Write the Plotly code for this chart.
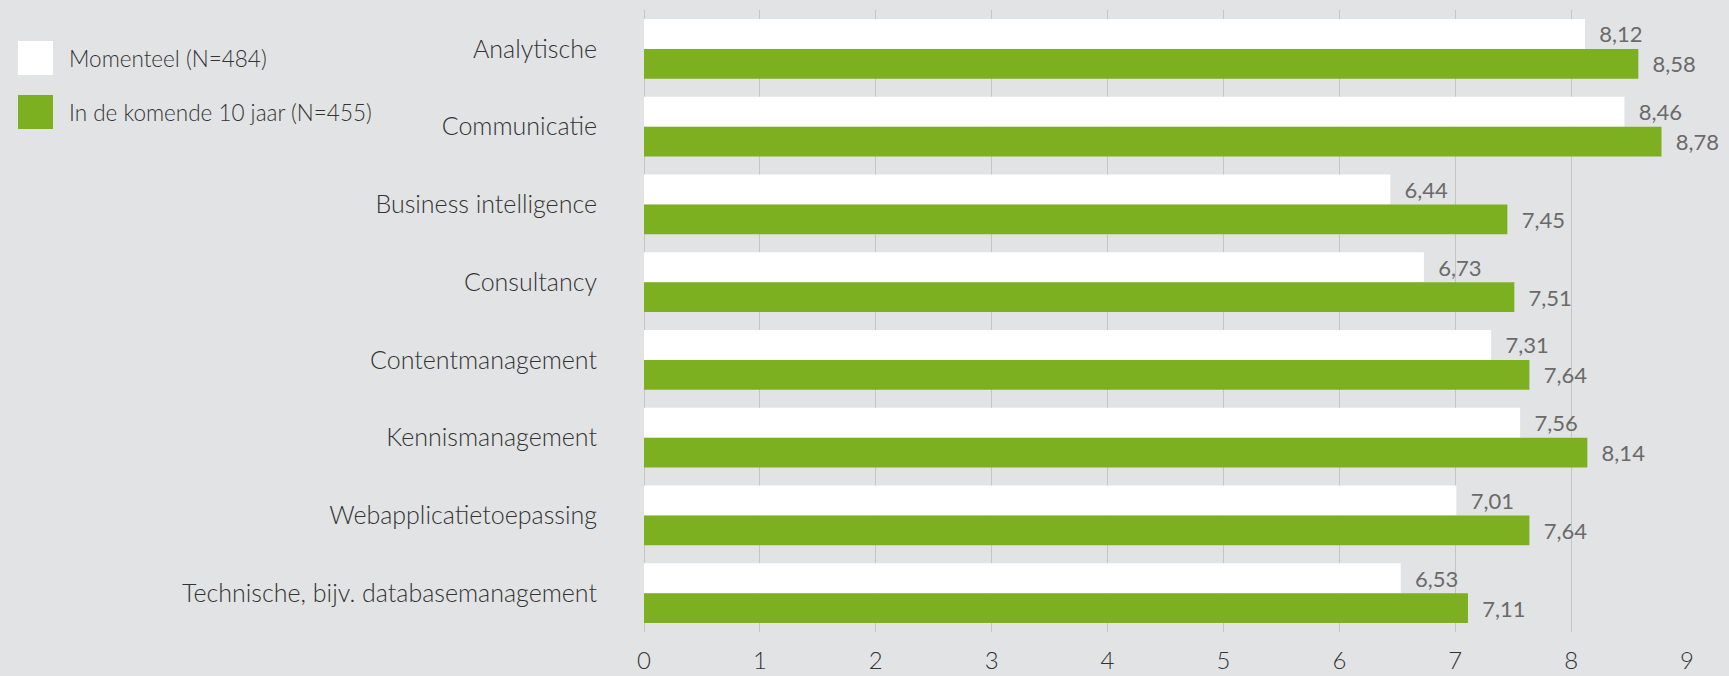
import plotly.graph_objects as go

categories = [
    "Analytische",
    "Communicatie",
    "Business intelligence",
    "Consultancy",
    "Contentmanagement",
    "Kennismanagement",
    "Webapplicatietoepassing",
    "Technische, bijv. databasemanagement",
]
momenteel = [8.12, 8.46, 6.44, 6.73, 7.31, 7.56, 7.01, 6.53]
komende_10_jaar = [8.58, 8.78, 7.45, 7.51, 7.64, 8.14, 7.64, 7.11]
series_names = ["Momenteel (N=484)", "In de komende 10 jaar (N=455)"]
x_ticks = [0, 1, 2, 3, 4, 5, 6, 7, 8, 9]

W, H = 1729, 676
M_L, M_R, M_T, M_B = 644, 42, 10, 44
BG = "#e2e3e5"
WHITE = "#ffffff"
GREEN = "#7cb021"
FONT = "Lato"
TEXT = "#333333"
VALUE = "#6a6a6a"
GRID = "#c4c5c7"

fig = go.Figure()
for name, vals, color in [(series_names[0], momenteel, WHITE),
                          (series_names[1], komende_10_jaar, GREEN)]:
    fig.add_trace(go.Bar(
        y=categories, x=vals, name=name, orientation="h",
        marker=dict(color=color, line=dict(width=0)),
        texttemplate="\u00a0\u00a0%{x:.2f}", textposition="outside",
        textfont=dict(family=FONT, size=22, color=VALUE, weight=400),
        cliponaxis=False, showlegend=False,
    ))


def px_x(px):
    return (px - M_L) / (W - M_L - M_R)


def px_y(py):
    return 1 - (py - M_T) / (H - M_T - M_B)


# legend drawn as large swatches with labels
legend_rows = [(series_names[0], WHITE, 41, 75), (series_names[1], GREEN, 95, 129)]
for name, color, top, bottom in legend_rows:
    fig.add_shape(type="rect", xref="paper", yref="paper",
                  x0=px_x(18), x1=px_x(53), y0=px_y(bottom), y1=px_y(top),
                  fillcolor=color, line=dict(width=0))
    fig.add_annotation(xref="paper", yref="paper", x=px_x(67),
                       y=px_y((top + bottom) / 2), text=name, showarrow=False,
                       xanchor="left", yanchor="middle",
                       font=dict(family=FONT, size=22.5, color=TEXT, weight=300))

fig.update_layout(
    width=W, height=H,
    margin=dict(l=M_L, r=M_R, t=M_T, b=M_B, pad=0, autoexpand=False),
    paper_bgcolor=BG, plot_bgcolor=BG,
    barmode="group", bargap=0.23, bargroupgap=0,
    separators=",.",
    showlegend=False,
    font=dict(family=FONT, color=TEXT),
)
fig.update_xaxes(
    range=[0, 9], tickvals=x_ticks, showgrid=True, gridcolor=GRID,
    gridwidth=1, zeroline=True, zerolinecolor=GRID, zerolinewidth=1,
    showline=False, ticks="", ticklabelstandoff=12, automargin=False,
    tickfont=dict(family=FONT, size=24, color=TEXT, weight=300),
)
fig.update_yaxes(
    autorange="reversed", showgrid=False, showline=False, ticks="",
    ticklabelstandoff=46, automargin=False,
    tickfont=dict(family=FONT, size=25, color=TEXT, weight=300),
)

fig.write_html("out.html")
